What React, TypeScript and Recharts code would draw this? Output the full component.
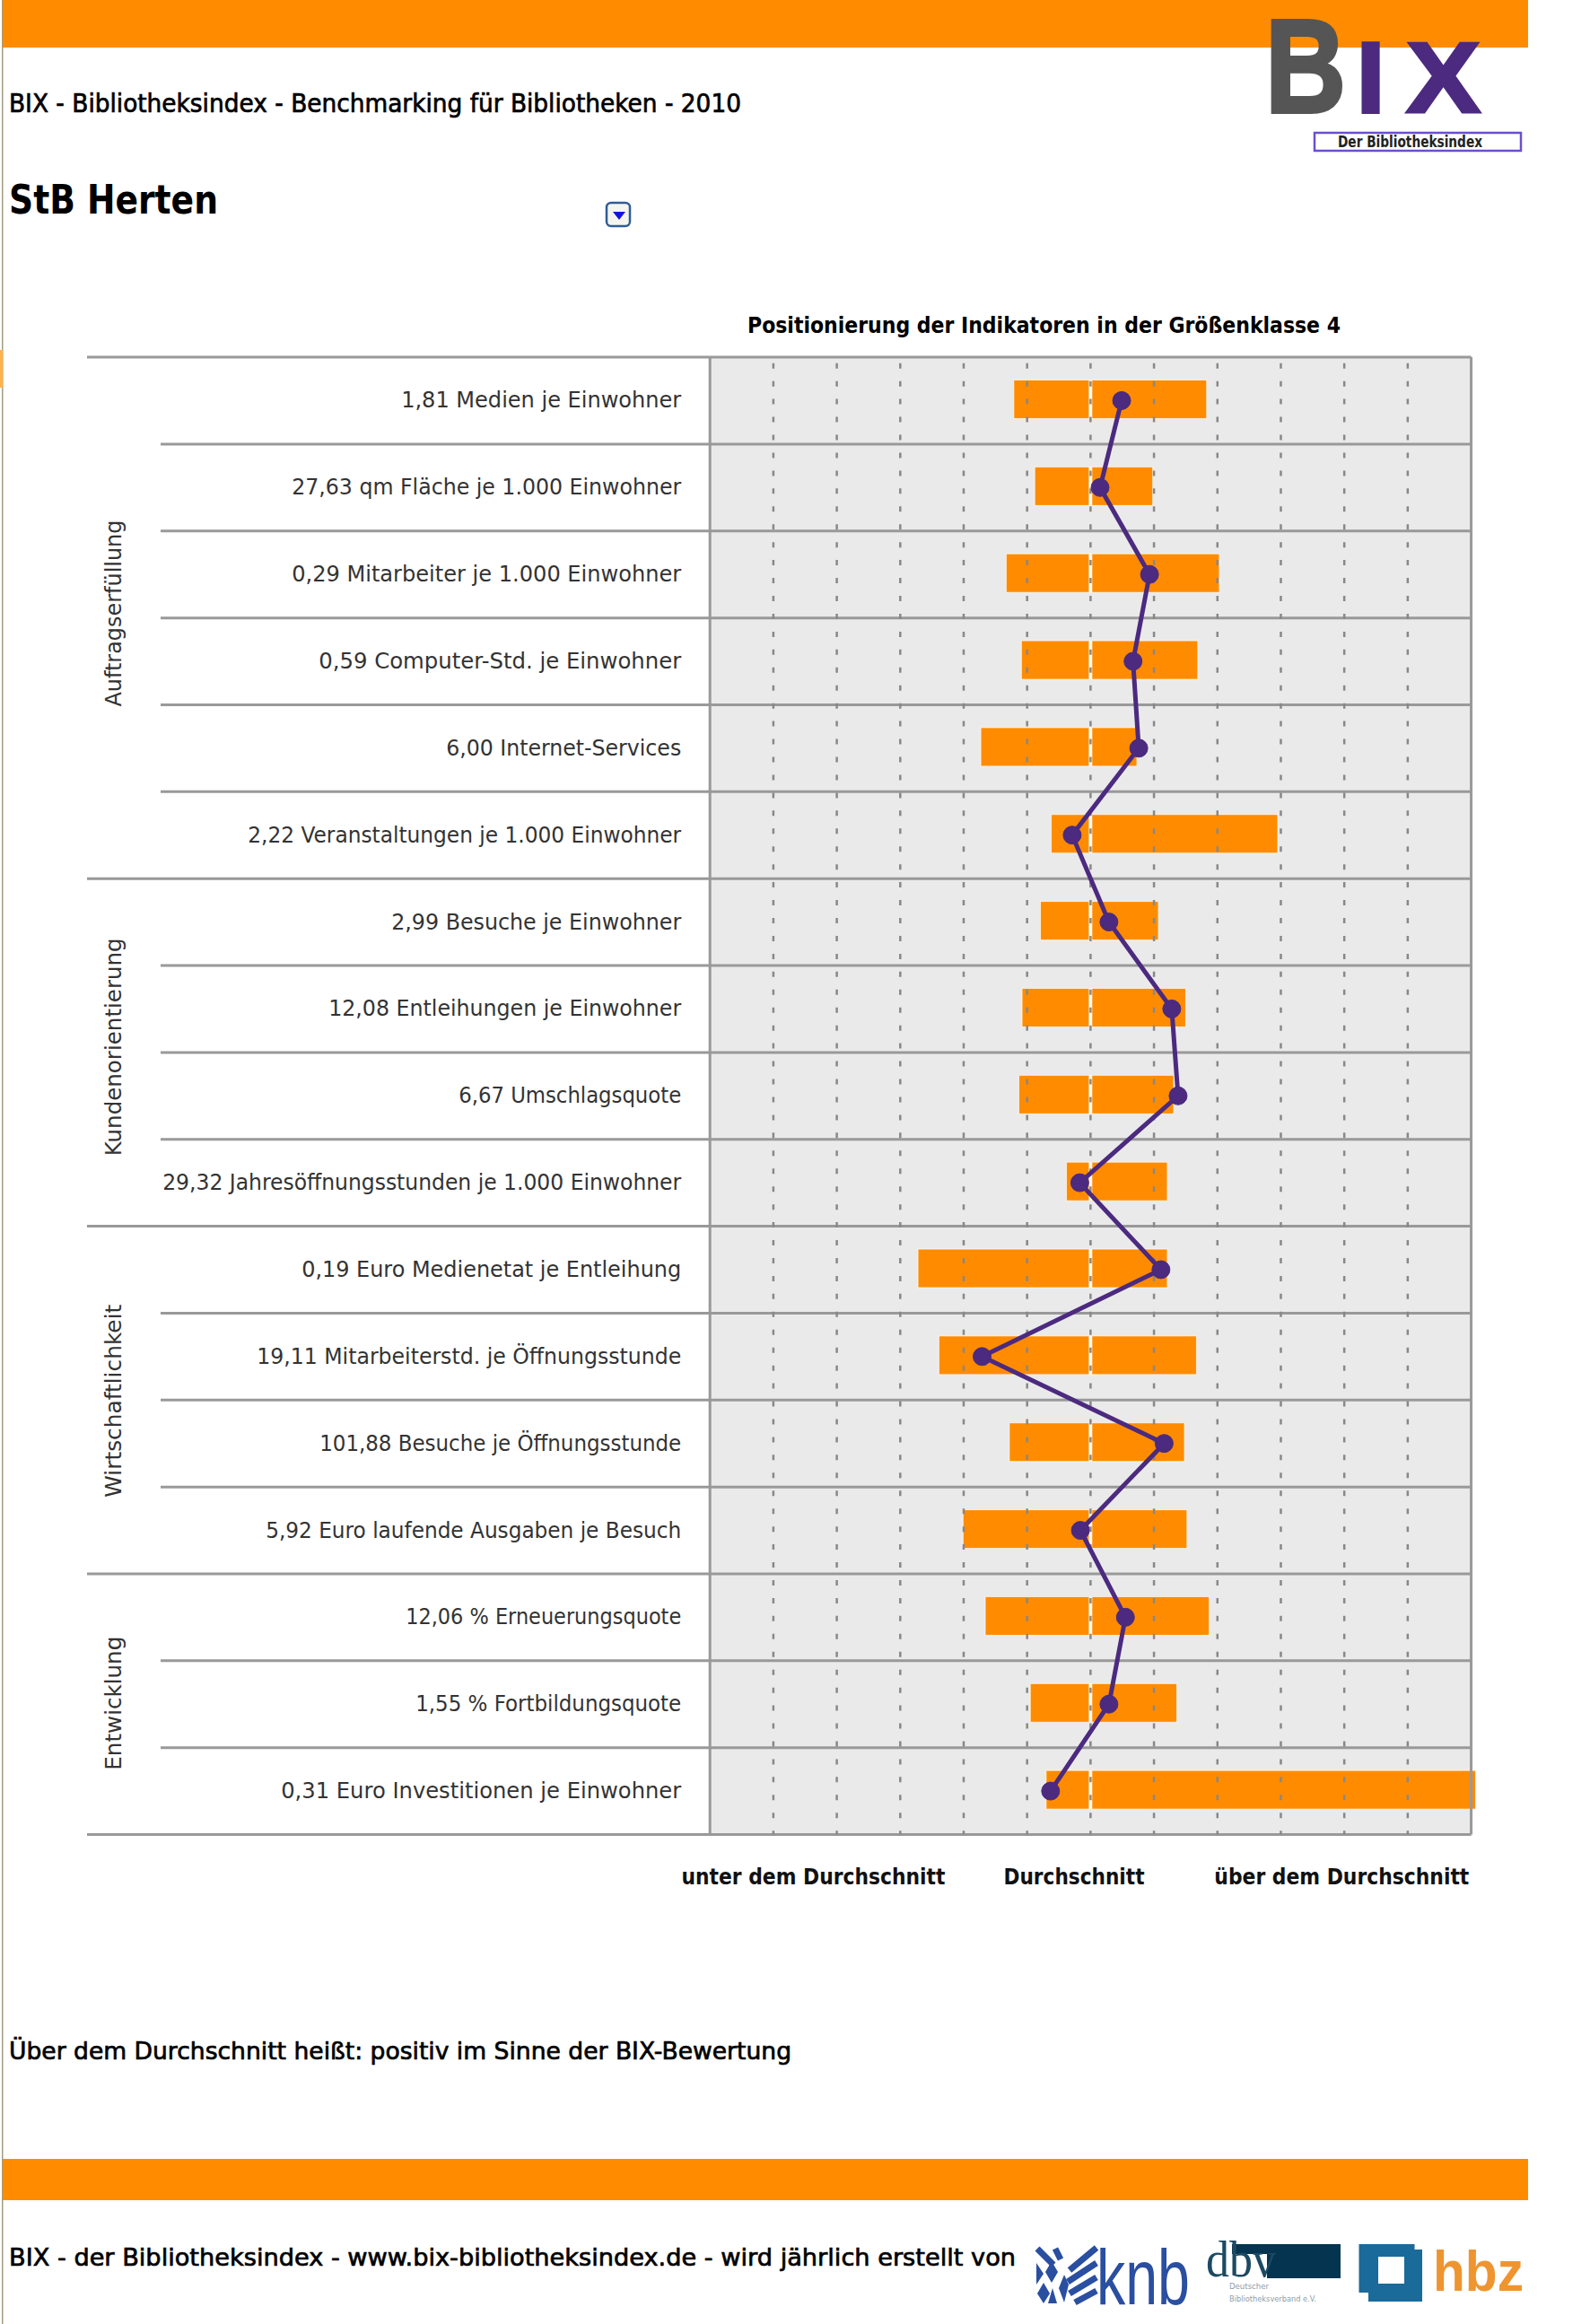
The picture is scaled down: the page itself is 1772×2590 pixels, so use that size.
import React from 'react';
import { ComposedChart, Bar, Line, XAxis, YAxis, ReferenceLine } from 'recharts';

const indicators = [
  '1,81 Medien je Einwohner', '27,63 qm Fläche je 1.000 Einwohner', '0,29 Mitarbeiter je 1.000 Einwohner',
  '0,59 Computer-Std. je Einwohner', '6,00 Internet-Services', '2,22 Veranstaltungen je 1.000 Einwohner',
  '2,99 Besuche je Einwohner', '12,08 Entleihungen je Einwohner', '6,67 Umschlagsquote',
  '29,32 Jahresöffnungsstunden je 1.000 Einwohner', '0,19 Euro Medienetat je Entleihung',
  '19,11 Mitarbeiterstd. je Öffnungsstunde', '101,88 Besuche je Öffnungsstunde',
  '5,92 Euro laufende Ausgaben je Besuch', '12,06 % Erneuerungsquote', '1,55 % Fortbildungsquote',
  '0,31 Euro Investitionen je Einwohner',
];
const belowAvg = [-1.21, -0.88, -1.33, -1.09, -1.73, -0.62, -0.79, -1.08, -1.13, -0.38, -2.72, -2.39, -1.28, -2.01, -1.66, -0.95, -0.70];
const aboveAvg = [1.83, 0.98, 2.03, 1.69, 0.73, 2.95, 1.07, 1.50, 1.31, 1.21, 1.21, 1.67, 1.48, 1.52, 1.87, 1.36, 6.07];
const position = [0.49, 0.15, 0.93, 0.67, 0.76, -0.29, 0.29, 1.28, 1.38, -0.17, 1.11, -1.71, 1.16, -0.16, 0.55, 0.29, -0.63];
const groupNames = ['Auftragserfüllung', 'Kundenorientierung', 'Wirtschaftlichkeit', 'Entwicklung'];
const groupStarts = [0, 6, 10, 14];
const groupCounts = [6, 4, 4, 3];
const gridTicks = [-5, -4, -3, -2, -1, 0, 1, 2, 3, 4, 5];
const scaleTicks = [-4.37, -0.26, 3.96];
const scaleLabels = ['unter dem Durchschnitt', 'Durchschnitt', 'über dem Durchschnitt'];

// text fitting (widths in px of the labels as they appear)
const labelWidths = [312, 434, 434, 404, 262, 483, 323, 393, 248, 578, 423, 473, 403, 463, 307, 296, 446];
const groupWidths = [208, 243, 215, 149];
const groupShifts = [-5, -6, 1, -1];
const scaleWidths = [294, 157, 284];

const data = indicators.map((name, i) => ({ name, below: belowAvg[i], above: aboveAvg[i], pos: position[i] }));

const SANS = '"DejaVu Sans", sans-serif';
const LIB = '"Liberation Sans", sans-serif';
const ROW_H = 96.85;
const ORANGE = '#FF8C00';
const PURPLE = '#4B2A7F';
const RULE = '#999999';
const PLOT_RIGHT = 1639.6;

const YTick = (props: any) => {
  const { x, y, payload, index } = props;
  const gi = groupStarts.indexOf(index);
  return (
    <g>
      <text x={x - 24} y={y} textAnchor="end" dominantBaseline="central" fontFamily={SANS} fontSize={24} fill="#333"
        textLength={labelWidths[index]} lengthAdjust="spacingAndGlyphs">
        {payload.value}
      </text>
      {gi >= 0 && (
        <text
          transform={`translate(127, ${y + ((groupCounts[gi] - 1) / 2) * ROW_H + groupShifts[gi]}) rotate(-90)`}
          textAnchor="middle"
          dominantBaseline="central"
          fontFamily={SANS}
          fontSize={24}
          fill="#333"
          textLength={groupWidths[gi]}
          lengthAdjust="spacingAndGlyphs"
        >
          {groupNames[gi]}
        </text>
      )}
    </g>
  );
};

const XTick = (props: any) => {
  const { x, y, index } = props;
  return (
    <text x={x} y={y + 39} textAnchor="middle" dominantBaseline="central" fontFamily={SANS} fontWeight="bold" fontSize={24}
      fill="#111" textLength={scaleWidths[index]} lengthAdjust="spacingAndGlyphs">
      {scaleLabels[index]}
    </text>
  );
};

// Row backdrop and rules, drawn per row from that row's band; group rules reach further left
const rowBackdrop = (p: any) => {
  const centre = p.y + p.height / 2;
  const top = centre - ROW_H / 2;
  const bottom = centre + ROW_H / 2;
  const i = p.index;
  return (
    <g>
      <rect x={p.x} y={top} width={PLOT_RIGHT - p.x} height={ROW_H} fill="#EAEAEA" />
      <line x1={groupStarts.includes(i) ? 97 : 179} x2={PLOT_RIGHT} y1={top} y2={top} stroke={RULE} strokeWidth={3} />
      {i === indicators.length - 1 && <line x1={97} x2={PLOT_RIGHT} y1={bottom} y2={bottom} stroke={RULE} strokeWidth={3} />}
    </g>
  );
};

// Half bars leave a white seam at the average and sit slightly above the row centre
const halfBar = (side: 'below' | 'above') => (p: any) => {
  let left = Math.min(p.x, p.x + p.width);
  let right = Math.max(p.x, p.x + p.width);
  const zero = side === 'below' ? right : left;
  if (side === 'below') right -= 1.5;
  else left += 1.5;
  return (
    <g>
      <rect x={left} y={p.y - 1.5} width={right - left} height={p.height} fill={ORANGE} stroke="#fff" strokeOpacity={0.7} strokeWidth={1} />
      {side === 'below' && <rect x={zero - 1.5} y={p.y - 1.5} width={3} height={p.height} fill="#fff" />}
    </g>
  );
};

const T = ({ x, y, w, size, children, weight = 'bold', fill = '#000', sw = 0 }: any) => (
  <text x={x} y={y} dominantBaseline="central" fontFamily={SANS} fontWeight={weight} fontSize={size} fill={fill}
    stroke={sw ? fill : 'none'} strokeWidth={sw} textLength={w} lengthAdjust="spacingAndGlyphs">
    {children}
  </text>
);

const KNB = '#2A4EA0';
const HBZ = '#1A6A9A';

const Decor = () => (
  <svg width={1772} height={2590} style={{ position: 'absolute', left: 0, top: 0 }}>
    <rect x={2} y={0} width={1.5} height={2590} fill="#a39d84" />
    <rect x={0} y={390} width={3} height={42} fill="#ffb347" />
    <rect x={3} y={0} width={1700} height={53} fill={ORANGE} />
    <rect x={3} y={2406} width={1700} height={46} fill={ORANGE} />
    <T x={10} y={115} w={816} size={28} weight="normal" sw={0.7}>BIX - Bibliotheksindex - Benchmarking für Bibliotheken - 2010</T>
    <T x={10} y={222} w={233} size={44}>StB Herten</T>
    <T x={833} y={363} w={661} size={24}>Positionierung der Indikatoren in der Größenklasse 4</T>
    <T x={10} y={2285} w={872} size={27} weight="normal" sw={0.7}>Über dem Durchschnitt heißt: positiv im Sinne der BIX-Bewertung</T>
    <T x={10} y={2515} w={1122} size={27} weight="normal" sw={0.7}>BIX - der Bibliotheksindex - www.bix-bibliotheksindex.de - wird jährlich erstellt von</T>

    <rect x={676} y={226} width={26} height={26} rx={5} fill="#f5f5ee" stroke="#2f5d96" strokeWidth={2.5} />
    <path d="M683 236 L697 236 L690 245 Z" fill="#1414e0" />

    <text x={1410} y={125} fontFamily={LIB} fontWeight="bold" fontSize={148} fill="#555555" stroke="#555555" strokeWidth={4} textLength={90} lengthAdjust="spacingAndGlyphs">B</text>
    <text x={1512} y={125} fontFamily={LIB} fontWeight="bold" fontSize={112} fill={PURPLE} stroke={PURPLE} strokeWidth={4}>I</text>
    <text x={1567} y={125} fontFamily={LIB} fontWeight="bold" fontSize={112} fill={PURPLE} stroke={PURPLE} strokeWidth={3} textLength={83} lengthAdjust="spacingAndGlyphs">X</text>
    <rect x={1465} y={148} width={230} height={20} fill="#fff" stroke="#6A4FD0" strokeWidth={2.5} />
    <T x={1491} y={158} w={161} size={17} fill="#222">Der Bibliotheksindex</T>

    <g stroke={KNB} fill="none" strokeWidth={7}>
      <path d="M1192 2530 L1222 2505" />
      <path d="M1190 2543 L1222 2522" />
      <path d="M1192 2556 L1222 2538" />
      <path d="M1198 2566 L1222 2553" />
      <path d="M1156 2506 L1174 2524" />
      <path d="M1176 2506 L1182 2518" />
    </g>
    <g fill={KNB}>
      <path d="M1172 2520 L1179 2532 L1172 2544 L1165 2532 Z" />
      <path d="M1186 2535 L1191 2546 L1186 2566 L1180 2550 Z" />
      <path d="M1155 2522 L1163 2534 L1155 2546 Z" />
      <path d="M1163 2544 L1170 2556 L1163 2567 L1156 2556 Z" />
      <path d="M1173 2550 L1178 2567 L1168 2567 Z" />
    </g>
    <text x={1222} y={2568} fontFamily={LIB} fontSize={88} fill={KNB} textLength={104} lengthAdjust="spacingAndGlyphs">knb</text>

    <rect x={1373} y={2501} width={121} height={11} fill="#04344f" />
    <rect x={1412} y={2501} width={82} height={38} fill="#04344f" />
    <text x={1344} y={2537} fontFamily='"Liberation Serif", serif' fontSize={58} fill="#1c4a63" textLength={78} lengthAdjust="spacingAndGlyphs">dbv</text>
    <text x={1370} y={2551} fontFamily={SANS} fontSize={9} fill="#8aa0ac" textLength={44} lengthAdjust="spacingAndGlyphs">Deutscher</text>
    <text x={1370} y={2565} fontFamily={SANS} fontSize={9} fill="#8aa0ac" textLength={97} lengthAdjust="spacingAndGlyphs">Bibliotheksverband e.V.</text>

    <rect x={1525} y={2507} width={60} height={58} fill={HBZ} />
    <rect x={1514.5} y={2501} width={62} height={54} fill={HBZ} />
    <rect x={1536} y={2515} width={29} height={30} fill="#fff" />
    <text x={1597} y={2553} fontFamily={LIB} fontWeight="bold" fontSize={63} fill="#EE9530" textLength={101} lengthAdjust="spacingAndGlyphs">hbz</text>
  </svg>
);

export default function App() {
  return (
    <div style={{ position: 'absolute', left: 0, top: 0, width: 1772, height: 2590, background: '#fff', overflow: 'hidden' }}>
      <Decor />
      <div style={{ position: 'absolute', left: 0, top: 0 }}>
        <ComposedChart
          width={1772}
          height={2590}
          data={data}
          layout="vertical"
          stackOffset="sign"
          barCategoryGap={0}
          margin={{ top: 398, right: 118.3, bottom: 485.5, left: 0 }}
        >
          <XAxis type="number" domain={[-6, 6.2]} ticks={scaleTicks} interval={0} height={60} axisLine={false} tickLine={false} tick={<XTick />} />
          <YAxis type="category" dataKey="name" width={791.2} axisLine={false} tickLine={false} interval={0} tick={<YTick />} />

          {gridTicks.map((t) => (
            <ReferenceLine key={t} x={t} stroke="#888" strokeWidth={2.5} strokeDasharray="6 13.945" strokeDashoffset={1.7} />
          ))}
          <ReferenceLine x={-6} stroke={RULE} strokeWidth={3} ifOverflow="visible" />
          <ReferenceLine x={6} stroke={RULE} strokeWidth={3} ifOverflow="visible" />

          <Bar dataKey="below" stackId="s" fill={ORANGE} barSize={43} background={rowBackdrop} shape={halfBar('below')} isAnimationActive={false} />
          <Bar dataKey="above" stackId="s" fill={ORANGE} barSize={43} shape={halfBar('above')} isAnimationActive={false} />
          <Line dataKey="pos" stroke={PURPLE} strokeWidth={5} dot={{ r: 10, fill: PURPLE, stroke: PURPLE, strokeWidth: 1 }} isAnimationActive={false} />
        </ComposedChart>
      </div>
    </div>
  );
}
